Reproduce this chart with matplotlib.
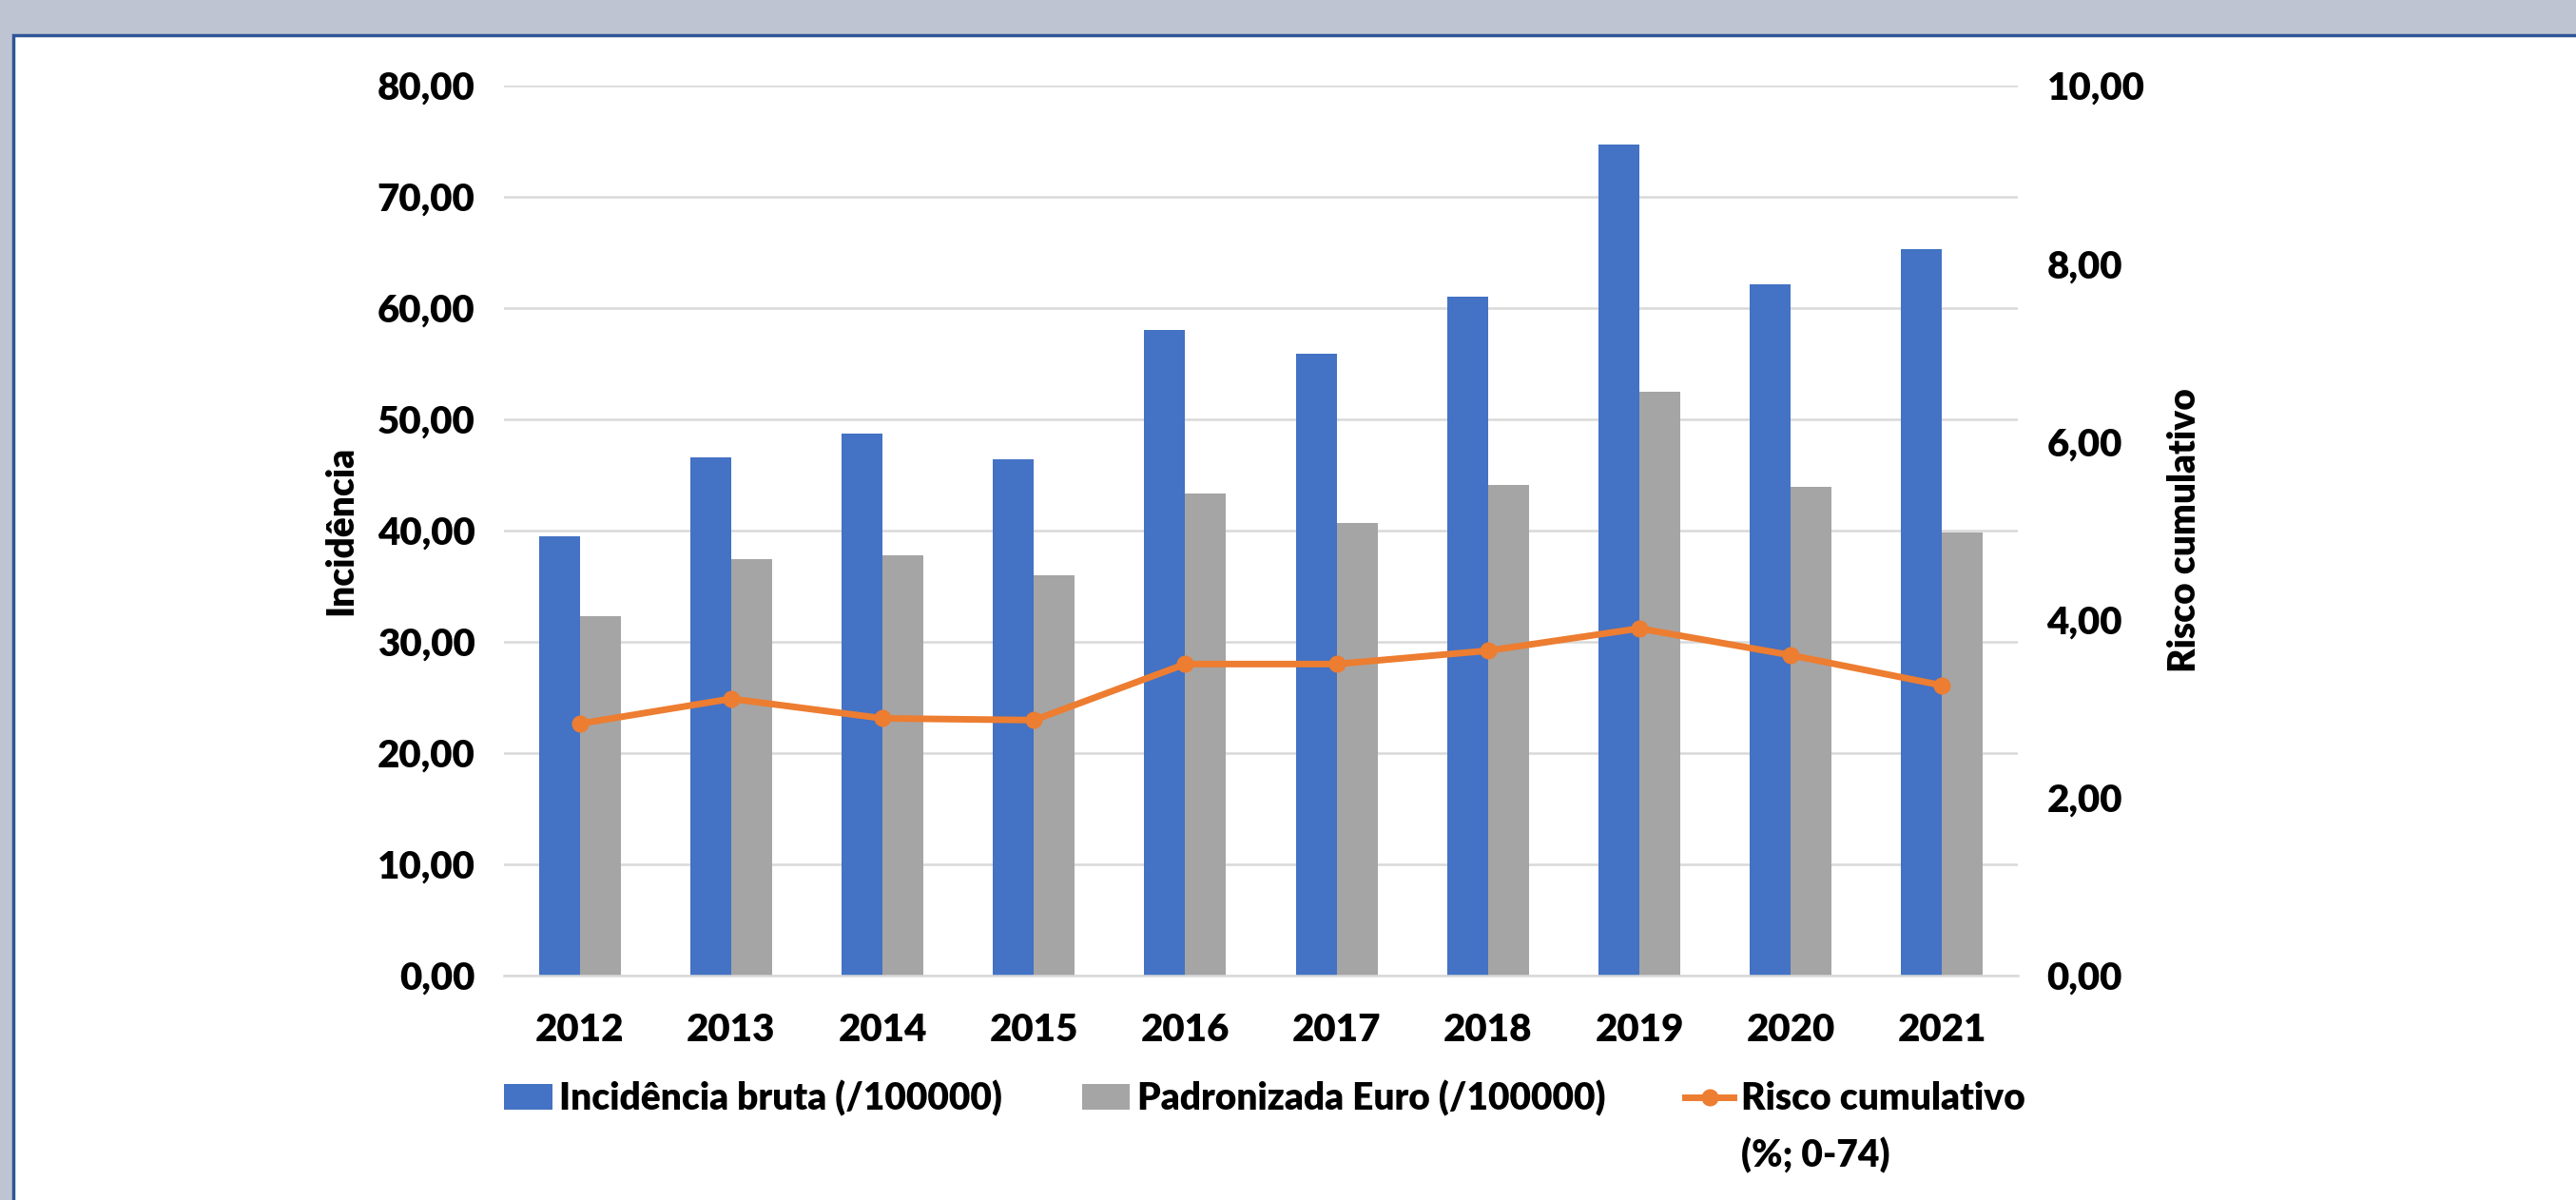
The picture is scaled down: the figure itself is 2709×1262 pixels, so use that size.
import matplotlib
matplotlib.use("Agg")
import matplotlib.pyplot as plt
from matplotlib.patches import Rectangle
from matplotlib.ticker import FuncFormatter
import numpy as np

# data
anos = ["2012", "2013", "2014", "2015", "2016", "2017", "2018", "2019", "2020", "2021"]
incidencia_bruta = [39.5, 46.6, 48.7, 46.4, 58.0, 55.9, 61.0, 74.7, 62.1, 65.3]
padronizada_euro = [32.3, 37.4, 37.8, 36.0, 43.3, 40.7, 44.1, 52.5, 43.9, 39.8]
risco_cumulativo = [2.83, 3.11, 2.89, 2.87, 3.50, 3.50, 3.65, 3.90, 3.60, 3.26]

plt.rcParams['font.family'] = ['Lato', 'DejaVu Sans']
plt.rcParams['font.weight'] = 'heavy'
peso = 'heavy'

W, H = 2709, 1262
fig = plt.figure(figsize=(W / 100, H / 100), dpi=100)
fig.patch.set_facecolor('#BEC4D2')
# white panel with a blue border, as in the screenshot
panel = Rectangle((14 / W, -0.02), 1.1, 1 - 37 / H + 0.02, transform=fig.transFigure,
                  facecolor='white', edgecolor='#2F5597', lw=2.5, zorder=-10)
fig.patches.append(panel)

ax = fig.add_axes([0.1957, 0.187, 0.7833 - 0.1957, 0.9288 - 0.187])
ax.set_facecolor('none')
x = np.arange(len(anos))
w = 0.27
ax.bar(x - w / 2, incidencia_bruta, w, color='#4472C4', label='Incidência bruta (/100000)')
ax.bar(x + w / 2, padronizada_euro, w, color='#A5A5A5', label='Padronizada Euro (/100000)')
ax.set_xlim(-0.5, len(anos) - 0.5)
ax.set_ylim(0, 80)
ax.set_yticks(range(0, 81, 10))
ax.set_xticks(x)
ax.set_xticklabels(anos)

virgula = FuncFormatter(lambda v, p: f"{v:.2f}".replace('.', ','))
ax.yaxis.set_major_formatter(virgula)
ax.yaxis.grid(True, color='#D9D9D9', lw=1.8)
ax.set_axisbelow(True)
for s in ['left', 'right', 'top']:
    ax.spines[s].set_visible(False)
ax.spines['bottom'].set_color('#D9D9D9')
ax.spines['bottom'].set_linewidth(1.8)
ax.tick_params(axis='y', length=0, pad=22, labelsize=29)
ax.tick_params(axis='x', length=0, pad=28, labelsize=29)
ax.set_ylabel('Incidência', fontsize=28, fontweight=peso, labelpad=14)

ax2 = ax.twinx()
ax2.plot(x, risco_cumulativo, color='#ED7D31', lw=5, marker='o', ms=12,
         label='Risco cumulativo')
ax2.set_ylim(0, 10)
ax2.set_yticks(range(0, 11, 2))
ax2.yaxis.set_major_formatter(virgula)
for s in ['left', 'right', 'top', 'bottom']:
    ax2.spines[s].set_visible(False)
ax2.tick_params(axis='y', length=0, pad=22, labelsize=29)
ax2.set_ylabel('Risco cumulativo', fontsize=28, fontweight=peso, labelpad=17)

h1, l1 = ax.get_legend_handles_labels()
h2, l2 = ax2.get_legend_handles_labels()
leg = fig.legend(h1 + h2, l1 + l2, ncol=3, loc='upper left',
                 bbox_to_anchor=(530 / W, 1 - 1136 / H), frameon=False,
                 fontsize=28, handlelength=1.3, handletextpad=0.2,
                 columnspacing=2.15, borderpad=0, borderaxespad=0)

# second line of the last legend entry, placed under its first line
fig.canvas.draw()
bb = leg.get_texts()[2].get_window_extent()
fig.text(bb.x0 / W, (bb.y0 + bb.y1) / 2 / H - 59 / H, '(%; 0-74)',
         fontsize=28, fontweight=peso, va='center', ha='left')

fig.savefig('out.png', dpi=100, facecolor=fig.get_facecolor())
